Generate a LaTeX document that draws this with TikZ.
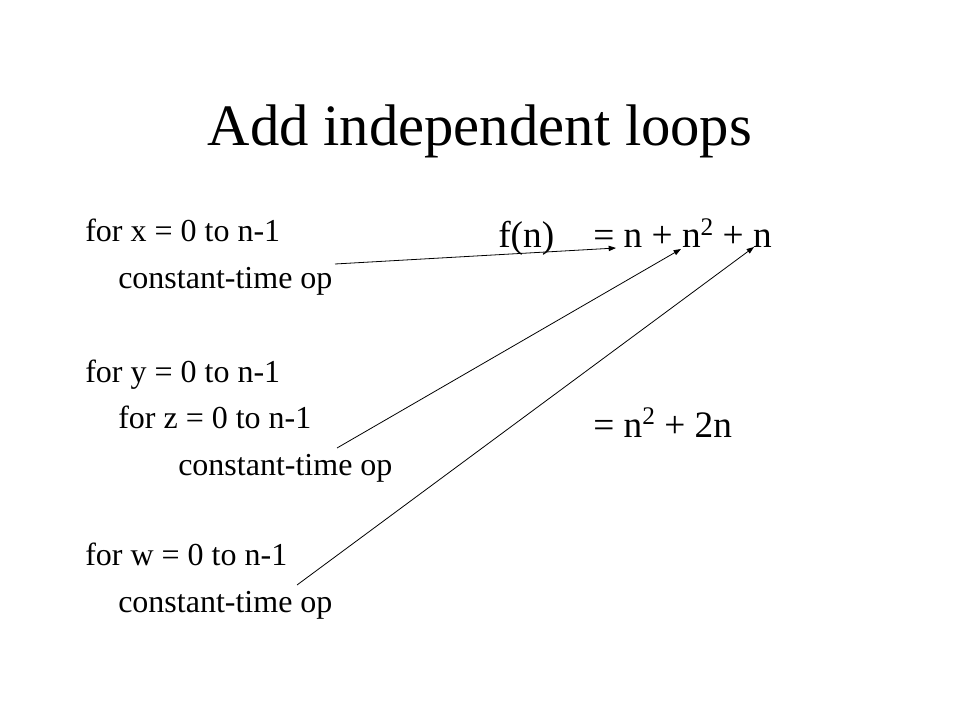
\documentclass[tikz,border=0pt]{standalone}
\usepackage{fontspec}
\setmainfont{Liberation Serif}
\usepackage{tikz}
\usetikzlibrary{arrows.meta,positioning}

\newcommand{\sqr}{\raisebox{0.34em}{\fontsize{19}{20}\selectfont 2}}

\tikzset{
  code/.style={anchor=base west, inner sep=0pt, font=\fontsize{24}{28}\selectfont},
  eqn/.style={anchor=base west, inner sep=0pt, font=\fontsize{28}{33}\selectfont},
  ptr/.style={-{Triangle[length=5.5pt,width=4pt]}, line width=0.6pt}
}

\begin{document}
\begin{tikzpicture}[x=0.75pt,y=-0.75pt]

    \useasboundingbox (0,0) rectangle (960,720);

    \node[anchor=base, inner sep=0pt, font=\fontsize{44}{53}\selectfont] at (480,146) (title) {Add independent loops};

    \node[code] at (85,242)  (loop_x)  {for x = 0 to n-1};
    \node[code] at (118,289) (op_x)    {constant-time op};

    \node[code] at (85,382)  (loop_y)  {for y = 0 to n-1};
    \node[code] at (118,428) (loop_z)  {for z = 0 to n-1};
    \node[code] at (178,475) (op_yz)   {constant-time op};

    \node[code] at (85,565)  (loop_w)  {for w = 0 to n-1};
    \node[code] at (118,612) (op_w)    {constant-time op};

    \node[eqn] at (498,248) (f_name) {f(n)};
    \node[eqn] at (593,248) (f_sum)  {= n + n\sqr{} + n};
    \node[eqn] at (593,437) (f_simp) {= n\sqr{} + 2n};

    \coordinate (from_x)  at (335,264);
    \coordinate (from_yz) at (337,448);
    \coordinate (from_w)  at (297,585);

    \coordinate (to_n1) at (616,248);
    \coordinate (to_n2) at (681,249);
    \coordinate (to_n3) at (754,247);

    \draw [ptr] (from_x)  -- (to_n1);
    \draw [ptr] (from_yz) -- (to_n2);
    \draw [ptr] (from_w)  -- (to_n3);

\end{tikzpicture}
\end{document}
